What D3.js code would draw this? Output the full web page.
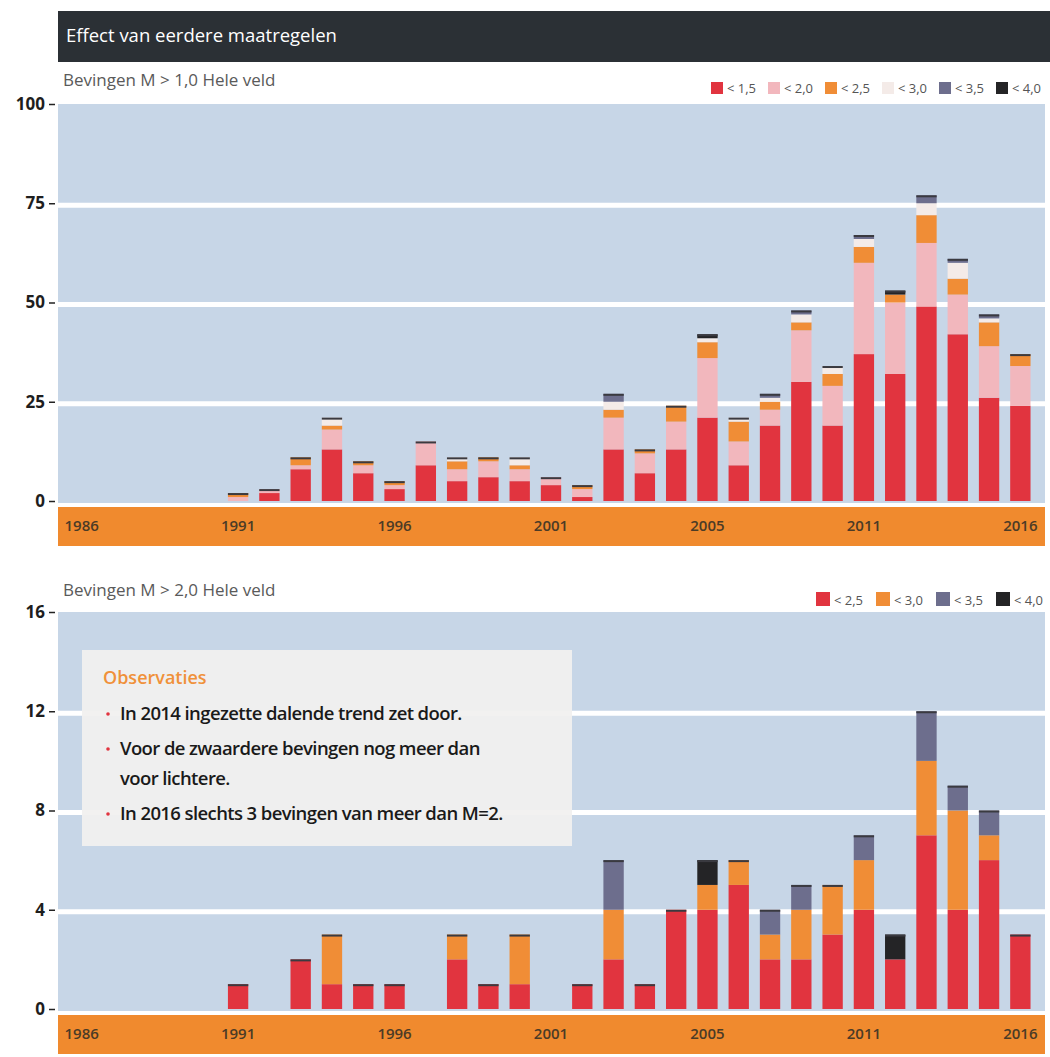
<!DOCTYPE html>
<html>
<head>
<meta charset="utf-8">
<script src="https://cdn.jsdelivr.net/npm/d3@7/dist/d3.min.js"></script>
<style>
  body { margin: 0; background: #fff; }
  svg text { font-family: "Open Sans", "DejaVu Sans", sans-serif; }
</style>
</head>
<body>
<svg id="plot" width="1050" height="1057"></svg>
<script>
// all years on the x axis
var allYears = [1986, 1987, 1988, 1989, 1990, 1991, 1992, 1993, 1994, 1995, 1996, 1997, 1998, 1999, 2000,
  2001, 2002, 2003, 2004, 2005, 2006, 2007, 2008, 2009, 2010, 2011, 2012, 2013, 2014, 2015, 2016];
// years that carry data
var years = [1991, 1992, 1993, 1994, 1995, 1996, 1997, 1998, 1999, 2000, 2001, 2002, 2003,
  2004, 2005, 2006, 2007, 2008, 2009, 2010, 2011, 2012, 2013, 2014, 2015, 2016];
var xTickYears = [1986, 1991, 1996, 2001, 2006, 2011, 2016];
var xTickLabels = ["1986", "1991", "1996", "2001", "2005", "2011", "2016"];

// Top panel: Bevingen M > 1,0 (counts per magnitude class)
var topLt15 = [0, 2, 8, 13, 7, 3, 9, 5, 6, 5, 4, 1, 13, 7, 13, 21, 9, 19, 30, 19, 37, 32, 49, 42, 26, 24];
var topLt20 = [1, 1, 1, 5, 2, 1, 6, 3, 4, 3, 2, 2, 8, 5, 7, 15, 6, 4, 13, 10, 23, 18, 16, 10, 13, 10];
var topLt25 = [1, 0, 2, 1, 1, 1, 0, 2, 1, 1, 0, 1, 2, 1, 4, 4, 5, 2, 2, 3, 4, 2, 7, 4, 6, 3];
var topLt30 = [0, 0, 0, 2, 0, 0, 0, 1, 0, 2, 0, 0, 2, 0, 0, 1, 1, 1, 2, 2, 2, 0, 3, 4, 1, 0];
var topLt35 = [0, 0, 0, 0, 0, 0, 0, 0, 0, 0, 0, 0, 2, 0, 0, 0, 0, 1, 1, 0, 1, 0, 2, 1, 1, 0];
var topLt40 = [0, 0, 0, 0, 0, 0, 0, 0, 0, 0, 0, 0, 0, 0, 0, 1, 0, 0, 0, 0, 0, 1, 0, 0, 0, 0];
var topLegend = ["< 1,5", "< 2,0", "< 2,5", "< 3,0", "< 3,5", "< 4,0"];
var topTicks = [0, 25, 50, 75, 100];

// Bottom panel: Bevingen M > 2,0
var botLt25 = [1, 0, 2, 1, 1, 1, 0, 2, 1, 1, 0, 1, 2, 1, 4, 4, 5, 2, 2, 3, 4, 2, 7, 4, 6, 3];
var botLt30 = [0, 0, 0, 2, 0, 0, 0, 1, 0, 2, 0, 0, 2, 0, 0, 1, 1, 1, 2, 2, 2, 0, 3, 4, 1, 0];
var botLt35 = [0, 0, 0, 0, 0, 0, 0, 0, 0, 0, 0, 0, 2, 0, 0, 0, 0, 1, 1, 0, 1, 0, 2, 1, 1, 0];
var botLt40 = [0, 0, 0, 0, 0, 0, 0, 0, 0, 0, 0, 0, 0, 0, 0, 1, 0, 0, 0, 0, 0, 1, 0, 0, 0, 0];
var botLegend = ["< 2,5", "< 3,0", "< 3,5", "< 4,0"];
var botTicks = [0, 4, 8, 12, 16];

var observations = [
  ["In 2014 ingezette dalende trend zet door."],
  ["Voor de zwaardere bevingen nog meer dan", "voor lichtere."],
  ["In 2016 slechts 3 bevingen van meer dan M=2."]
];

var red = "#e1343f", pink = "#f2b7bd", orange = "#f08d36", light = "#f4ebe8",
  slate = "#6d6e8d", black = "#242426";

var svg = d3.select("#plot");

var x = d3.scaleBand()
  .domain(allYears)
  .range([66, 1036])
  .paddingInner(0.35)
  .paddingOuter(0.175);

// Title bar
svg.append("rect")
  .attr("x", 58).attr("y", 11)
  .attr("width", 992).attr("height", 51)
  .attr("fill", "#2b3035");
svg.append("text")
  .attr("x", 66).attr("y", 42)
  .attr("fill", "#fff")
  .attr("font-size", 18.5)
  .text("Effect van eerdere maatregelen");

function drawPanel(p) {
  var g = svg.append("g");
  var y = d3.scaleLinear().domain([0, p.max]).range([p.y0, p.y1]);

  // subtitle
  g.append("text")
    .attr("x", 63).attr("y", p.titleY)
    .attr("fill", "#5a5a5a")
    .attr("font-size", 17)
    .text(p.title);

  // plot background
  g.append("rect")
    .attr("x", 58).attr("y", y(p.max))
    .attr("width", 987).attr("height", y(0) - y(p.max) + 2)
    .attr("fill", "#c7d6e7");

  // white gridlines
  g.selectAll(".grid")
    .data(p.ticks.slice(1, -1))
    .enter()
    .append("line")
    .attr("x1", 58).attr("x2", 1045)
    .attr("y1", function (d) { return y(d) + 2; })
    .attr("y2", function (d) { return y(d) + 2; })
    .attr("stroke", "#fff")
    .attr("stroke-width", 5);

  // orange year band
  g.append("rect")
    .attr("x", 58).attr("y", y(0) + 6)
    .attr("width", 987).attr("height", 39)
    .attr("fill", "#f08a2e");

  var xAxis = d3.axisBottom(x)
    .tickValues(xTickYears)
    .tickSize(0)
    .tickFormat(function (d) { return xTickLabels[xTickYears.indexOf(d)]; });
  var xg = g.append("g")
    .attr("transform", "translate(0," + (y(0) + 16) + ")")
    .call(xAxis);
  xg.select(".domain").remove();
  xg.selectAll("text")
    .attr("font-size", 15)
    .attr("font-weight", 600)
    .attr("fill", "#4b3b26")
    .style("font-family", "'Open Sans', sans-serif");

  var yAxis = d3.axisLeft(y).tickValues(p.ticks).tickSize(6).tickPadding(4);
  var yg = g.append("g")
    .attr("transform", "translate(55,0)")
    .call(yAxis);
  yg.select(".domain").remove();
  yg.selectAll("line").attr("stroke", "#222").attr("stroke-width", 1.5);
  yg.selectAll("text")
    .attr("font-size", 17)
    .attr("font-weight", "bold")
    .attr("fill", "#1e1e1e")
    .style("font-family", "'Open Sans', sans-serif");

  // stacked bars
  var rows = years.map(function (yr, i) {
    var r = { year: yr };
    p.series.forEach(function (s, k) { r["k" + k] = s[i]; });
    return r;
  });
  var keys = p.series.map(function (s, k) { return "k" + k; });
  var stacked = d3.stack().keys(keys)(rows);

  g.selectAll(".layer")
    .data(stacked)
    .enter()
    .append("g")
    .attr("fill", function (d, k) { return p.colors[k]; })
    .selectAll("rect")
    .data(function (d) { return d; })
    .enter()
    .append("rect")
    .attr("x", function (d) { return x(d.data.year); })
    .attr("width", x.bandwidth())
    .attr("y", function (d) { return y(d[1]); })
    .attr("height", function (d) { return y(d[0]) - y(d[1]); });

  // thin dark cap on top of each bar
  var totals = rows.map(function (r) {
    return { year: r.year, total: d3.sum(keys, function (k) { return r[k]; }) };
  }).filter(function (d) { return d.total > 0; });
  g.selectAll(".cap")
    .data(totals)
    .enter()
    .append("rect")
    .attr("x", function (d) { return x(d.year); })
    .attr("width", x.bandwidth())
    .attr("y", function (d) { return y(d.total); })
    .attr("height", 2)
    .attr("fill", "#3a3a40");

  // legend
  var lg = g.selectAll(".legend")
    .data(p.legend)
    .enter()
    .append("g")
    .attr("transform", function (d, i) { return "translate(" + (p.legendX + i * p.legendStep) + "," + p.legendY + ")"; });
  lg.append("rect")
    .attr("width", p.sq).attr("height", p.sq)
    .attr("fill", function (d, i) { return p.colors[i]; });
  lg.append("text")
    .attr("x", p.sq + 4).attr("y", p.sq - 1)
    .attr("font-size", 13)
    .attr("fill", "#555")
    .text(function (d) { return d; });

  return y;
}

drawPanel({
  title: "Bevingen M > 1,0 Hele veld", titleY: 86,
  max: 100, ticks: topTicks, y0: 501, y1: 104,
  series: [topLt15, topLt20, topLt25, topLt30, topLt35, topLt40],
  colors: [red, pink, orange, light, slate, black],
  legend: topLegend, legendX: 711, legendStep: 57, legendY: 82, sq: 12
});

drawPanel({
  title: "Bevingen M > 2,0 Hele veld", titleY: 596,
  max: 16, ticks: botTicks, y0: 1009, y1: 612,
  series: [botLt25, botLt30, botLt35, botLt40],
  colors: [red, orange, slate, black],
  legend: botLegend, legendX: 816, legendStep: 60, legendY: 592, sq: 14
});

// Observaties box
var box = svg.append("g");
box.append("rect")
  .attr("x", 82).attr("y", 650)
  .attr("width", 490).attr("height", 196)
  .attr("fill", "#f1f0ef")
  .attr("opacity", 0.95);
box.append("text")
  .attr("x", 103).attr("y", 684)
  .attr("fill", "#f0913a")
  .attr("font-size", 18)
  .attr("font-weight", 600)
  .text("Observaties");

var lineY = 720;
observations.forEach(function (item) {
  box.append("circle")
    .attr("cx", 108).attr("cy", lineY - 6)
    .attr("r", 1.8)
    .attr("fill", "#e1343f");
  item.forEach(function (line) {
    box.append("text")
      .attr("x", 120).attr("y", lineY)
      .attr("font-size", 18.5)
      .attr("font-weight", 600)
      .attr("fill", "#1a1a1a")
      .attr("letter-spacing", -0.6)
      .text(line);
    lineY += 30;
  });
  lineY += 5;
});
</script>
</body>
</html>
